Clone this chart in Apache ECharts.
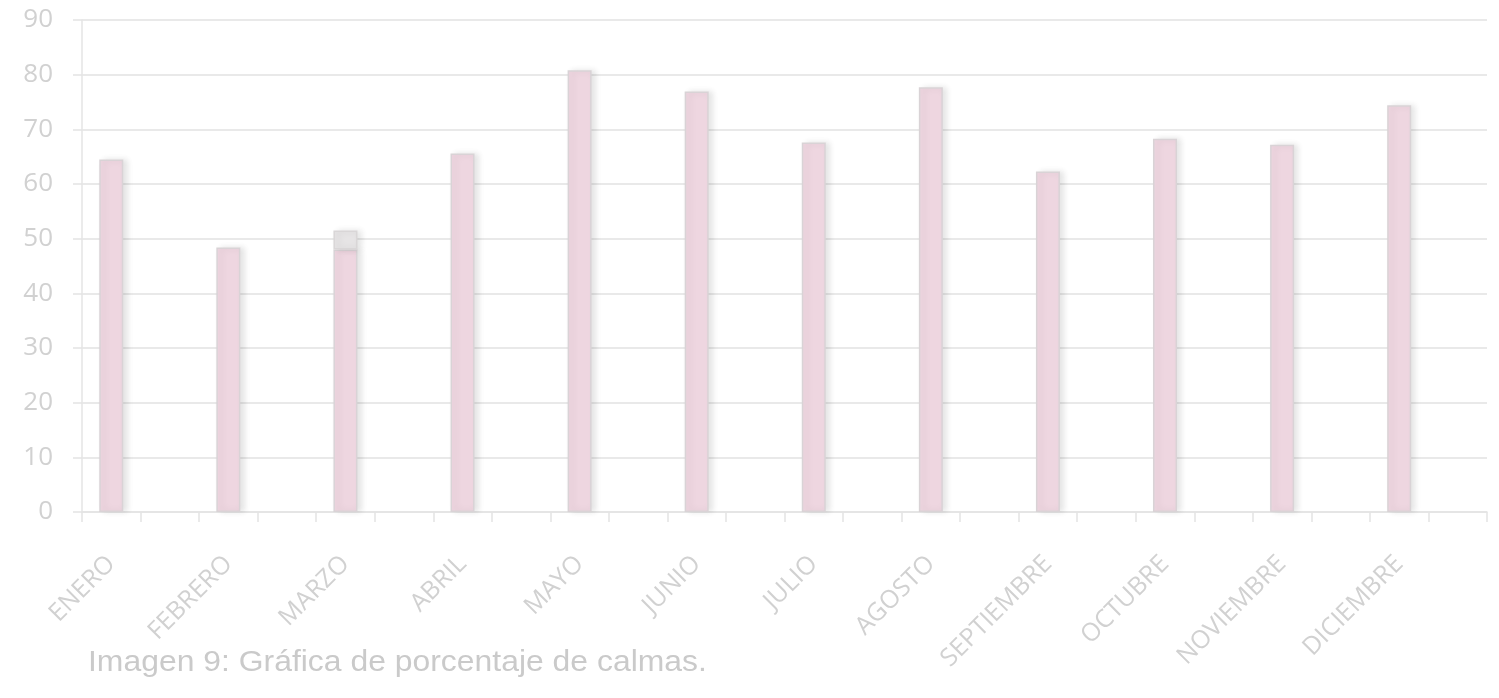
<!DOCTYPE html>
<html>
<head>
<meta charset="utf-8">
<script src="https://cdn.jsdelivr.net/npm/echarts@6/dist/echarts.min.js"></script>
<style>
  html, body { margin: 0; padding: 0; background: #ffffff; }
  #chart { width: 1499px; height: 698px; }
</style>
</head>
<body>
<div id="chart"></div>
<script>
// Porcentaje de calmas por mes
const meses = ['ENERO', 'FEBRERO', 'MARZO', 'ABRIL', 'MAYO', 'JUNIO', 'JULIO',
               'AGOSTO', 'SEPTIEMBRE', 'OCTUBRE', 'NOVIEMBRE', 'DICIEMBRE'];
const calmas = [64.5, 48.4, 48.0, 65.6, 80.8, 76.9, 67.6, 77.7, 62.3, 68.3, 67.2, 74.4];
// light grey cap sitting on top of the March bar
const tramoSuperior = [null, null, 3.5, null, null, null, null, null, null, null, null, null];
const ticksY = [0, 10, 20, 30, 40, 50, 60, 70, 80, 90];
const titulo = 'Imagen 9: Gráfica de porcentaje de calmas.';

// Each month takes two slots on the axis: the bar slot and an empty one,
// so tick marks fall every half month and the bar sits in the left half.
const slots = meses.flatMap(m => [m, '']);
const serieCalmas = calmas.flatMap(v => [v, null]);
const serieTramo = tramoSuperior.flatMap(v => [v, null]);

const chart = echarts.init(document.getElementById('chart'), null, { renderer: 'canvas' });

const textFont = 'Open Sans';
const lightText = '#d1d1d1';
const lineColor = '#e4e4e4';

chart.setOption({
  animation: false,
  backgroundColor: '#ffffff',
  grid: { left: 82, right: 12, top: 20, bottom: 186, containLabel: false },
  xAxis: {
    type: 'category',
    data: slots,
    boundaryGap: true,
    axisLine: { show: true, lineStyle: { color: lineColor, width: 1.5 } },
    axisTick: { show: true, length: 10, interval: 0, lineStyle: { color: lineColor, width: 1.5 } },
    axisLabel: {
      interval: 0,
      rotate: 45,
      margin: 48,
      color: lightText,
      fontFamily: textFont,
      fontSize: 25
    },
    splitLine: { show: false }
  },
  yAxis: {
    type: 'value',
    min: ticksY[0],
    max: ticksY[ticksY.length - 1],
    interval: 10,
    axisLine: { show: true, lineStyle: { color: lineColor, width: 1.5 } },
    axisTick: { show: true, length: 9, lineStyle: { color: lineColor, width: 1.5 } },
    axisLabel: {
      margin: 29,
      color: lightText,
      fontFamily: textFont,
      fontSize: 26
    },
    splitLine: { show: true, lineStyle: { color: '#e9e9e9', width: 2 } }
  },
  series: [
    {
      name: 'Calmas',
      type: 'bar',
      stack: 'mes',
      data: serieCalmas,
      barWidth: 24,
      itemStyle: {
        color: '#eed6e0',
        borderColor: '#d9d3d6',
        borderWidth: 1.5,
        shadowColor: 'rgba(0,0,0,0.10)',
        shadowBlur: 6,
        shadowOffsetX: 4
      }
    },
    {
      name: 'Tramo',
      type: 'bar',
      stack: 'mes',
      data: serieTramo,
      barWidth: 24,
      itemStyle: {
        color: '#e6e4e5',
        borderColor: '#d9d6d7',
        borderWidth: 1.5,
        shadowColor: 'rgba(0,0,0,0.10)',
        shadowBlur: 6,
        shadowOffsetX: 4
      }
    }
  ],
  graphic: [
    {
      type: 'text',
      x: 88,
      y: 648,
      scaleX: 1.1,
      style: {
        text: titulo,
        font: '29px "Liberation Sans", Arial, sans-serif',
        fill: '#cacaca',
        verticalAlign: 'top'
      }
    }
  ]
});
</script>
</body>
</html>
